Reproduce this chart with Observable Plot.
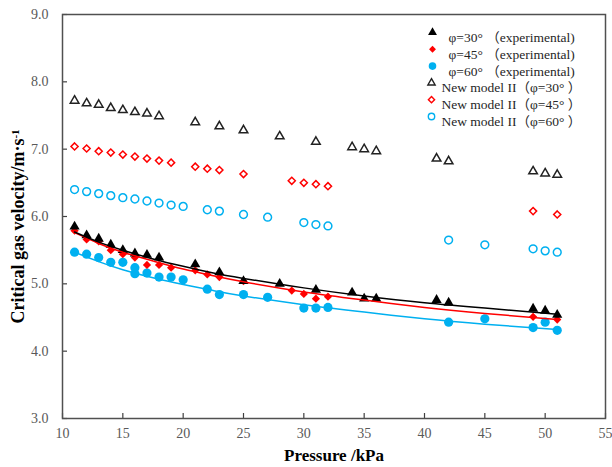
<!DOCTYPE html>
<html>
<head>
<meta charset="utf-8">
<script src="https://cdn.jsdelivr.net/npm/d3@7"></script>
<script src="https://cdn.jsdelivr.net/npm/@observablehq/plot@0.6"></script>
<style>
  html, body { margin: 0; padding: 0; background: #fff; }
  #chart svg text { font-family: "Liberation Serif", "Times New Roman", "Noto Sans CJK SC", serif !important; }
</style>
</head>
<body>
<div id="chart"></div>
<script>
// ---- data ----
const xTicks = [10, 15, 20, 25, 30, 35, 40, 45, 50, 55];
const yTicks = [3, 4, 5, 6, 7, 8, 9];

const pExp30 = [11,12,13,14,15,16,17,18,21,23,25,28,31,34,35,36,41,42,49,50,51];
const vExp30 = [5.85,5.72,5.67,5.58,5.50,5.45,5.43,5.39,5.29,5.17,5.04,5.00,4.91,4.87,4.78,4.78,4.76,4.72,4.63,4.60,4.54];

const pExp45 = [11,12,13,14,15,16,17,18,19,21,22,23,25,29,30,31,32,49,51];
const vExp45 = [5.79,5.66,5.63,5.50,5.44,5.39,5.28,5.28,5.24,5.20,5.14,5.10,5.04,4.90,4.85,4.78,4.81,4.51,4.47];

const pExp60 = [11,12,13,14,15,16,16,17,18,19,20,22,23,25,27,30,31,32,42,45,49,50,51];
const vExp60 = [5.47,5.44,5.39,5.32,5.32,5.24,5.15,5.16,5.10,5.10,5.06,4.92,4.84,4.84,4.80,4.64,4.64,4.65,4.43,4.48,4.35,4.43,4.31];

const pMod30 = [11,12,13,14,15,16,17,18,21,23,25,28,31,34,35,36,41,42,49,50,51];
const vMod30 = [7.72,7.68,7.66,7.61,7.58,7.55,7.53,7.49,7.40,7.34,7.28,7.19,7.11,7.03,7.00,6.97,6.86,6.82,6.67,6.64,6.62];

const pMod45 = [11,12,13,14,15,16,17,18,19,21,22,23,25,29,30,31,32,49,51];
const vMod45 = [7.04,7.01,6.97,6.95,6.92,6.89,6.86,6.83,6.80,6.74,6.71,6.69,6.63,6.53,6.50,6.48,6.45,6.08,6.03];

const pMod60 = [11,12,13,14,15,16,17,18,19,20,22,23,25,27,30,31,32,42,45,49,50,51];
const vMod60 = [6.40,6.37,6.34,6.31,6.28,6.26,6.23,6.20,6.17,6.15,6.10,6.08,6.03,5.99,5.91,5.88,5.86,5.65,5.58,5.52,5.49,5.47];

// trend lines
const pFit = [11,13,15,17.5,20,22.5,25,30,35,40,45,51];
const vFit30 = [5.77,5.62,5.50,5.37,5.26,5.16,5.08,4.94,4.82,4.72,4.64,4.55];
const vFit45 = [5.76,5.60,5.47,5.34,5.22,5.12,5.03,4.88,4.76,4.65,4.56,4.47];
const vFit60 = [5.47,5.33,5.21,5.09,4.99,4.90,4.82,4.69,4.58,4.48,4.40,4.32];

const legendLabels = [
  "φ=30° （experimental)",
  "φ=45° （experimental)",
  "φ=60° （experimental)",
  "New model II（φ=30° ）",
  "New model II（φ=45° ）",
  "New model II（φ=60° ）"
];
const xLabel = "Pressure /kPa";
const yLabelMain = "Critical gas velocity/m·s";
const yLabelSup = "-1";

// ---- styling ----
const BLACK = "#000000", RED = "#ff0000", CYAN = "#00b0f0";
const FONT = "'Liberation Serif', 'Times New Roman', serif";
const W = 612, H = 467;
const M = {top: 14, right: 7, bottom: 49, left: 62};
const innerW = W - M.left - M.right;
const innerH = H - M.top - M.bottom;

const zip = (ps, vs) => ps.map((p, i) => ({p, v: vs[i]}));

const series = [
  {data: zip(pMod30, vMod30), symbol: "triangle", r: 3.2, fill: "none", stroke: "#222", sw: 1.5},
  {data: zip(pMod45, vMod45), symbol: "diamond2", r: 3.2, fill: "none", stroke: RED, sw: 1.5},
  {data: zip(pMod60, vMod60), symbol: "circle", r: 3.9, fill: "none", stroke: CYAN, sw: 1.5},
  {data: zip(pExp60, vExp60), symbol: "circle", r: 4.6, fill: CYAN, stroke: "none", sw: 0},
  {data: zip(pExp45, vExp45), symbol: "diamond2", r: 3.7, fill: RED, stroke: "none", sw: 0},
  {data: zip(pExp30, vExp30), symbol: "triangle", r: 3.8, fill: BLACK, stroke: "none", sw: 0}
];

const fits = [
  {data: zip(pFit, vFit60), stroke: CYAN},
  {data: zip(pFit, vFit45), stroke: RED},
  {data: zip(pFit, vFit30), stroke: BLACK}
];

const legendStyle = [
  {symbol: "triangle", r: 3.3, fill: BLACK, stroke: "none", sw: 0, sx: 370, tx: 386},
  {symbol: "diamond2", r: 3.1, fill: RED, stroke: "none", sw: 0, sx: 370, tx: 386},
  {symbol: "circle", r: 3.8, fill: CYAN, stroke: "none", sw: 0, sx: 370, tx: 386},
  {symbol: "triangle", r: 2.7, fill: "none", stroke: "#222", sw: 1.4, sx: 369, tx: 379},
  {symbol: "diamond2", r: 2.8, fill: "none", stroke: RED, sw: 1.4, sx: 369, tx: 379},
  {symbol: "circle", r: 3.2, fill: "none", stroke: CYAN, sw: 1.4, sx: 369, tx: 379}
];
const legendRowY0 = 18, legendRowStep = 16.8;

const marks = [
  // inward ticks
  Plot.tickY(yTicks, {y: d => d, stroke: "#404040", strokeWidth: 1.2, insetRight: innerW - 5}),
  Plot.tickX(xTicks, {x: d => d, stroke: "#404040", strokeWidth: 1.2, insetTop: innerH - 5}),
  Plot.axisX({ticks: xTicks, tickSize: 0, tickPadding: 10, label: null, fontSize: 14,
              fontFamily: FONT, fill: "#595959", tickFormat: d => String(d)}),
  Plot.axisY({ticks: yTicks, tickSize: 0, tickPadding: 14, label: null, fontSize: 14,
              fontFamily: FONT, fill: "#595959", tickFormat: d => d.toFixed(1)}),
  Plot.frame({stroke: "#505050", strokeWidth: 1.5}),
  ...series.map(s => Plot.dot(s.data, {x: "p", y: "v", symbol: () => s.symbol, r: s.r,
      fill: s.fill, stroke: s.stroke, strokeWidth: s.sw})),
  ...fits.map(f => Plot.line(f.data, {x: "p", y: "v", stroke: f.stroke, strokeWidth: 1.5, curve: "natural"})),
  // legend
  ...legendStyle.map((s, i) => Plot.dot([legendLabels[i]], {frameAnchor: "top-left", dx: s.sx,
      dy: legendRowY0 + i * legendRowStep, symbol: () => s.symbol, r: s.r, fill: s.fill,
      stroke: s.stroke, strokeWidth: s.sw})),
  ...legendStyle.map((s, i) => Plot.text([legendLabels[i]], {frameAnchor: "top-left", dx: s.tx,
      dy: legendRowY0 + i * legendRowStep, text: d => d, textAnchor: "start", fontSize: 13.5,
      fontFamily: FONT, fill: "#262626"})),
  // axis titles
  Plot.text([xLabel], {frameAnchor: "bottom", dy: 42, text: d => d, fontSize: 17,
      fontWeight: "bold", fontFamily: FONT, fill: "#000"}),
  Plot.text([yLabelMain], {frameAnchor: "left", dx: -44, dy: 10, rotate: -90, text: d => d,
      textAnchor: "middle", fontSize: 18, fontWeight: "bold", fontFamily: FONT, fill: "#000"})
];

const chart = Plot.plot({
  width: W, height: H,
  marginTop: M.top, marginRight: M.right, marginBottom: M.bottom, marginLeft: M.left,
  style: {background: "#fff", fontFamily: FONT},
  x: {domain: [10, 55]},
  y: {domain: [3, 9]},
  symbol: {type: "identity"},
  marks
});

// superscript for the y label unit
d3.select(chart).selectAll("text")
  .filter(function() { return this.textContent === yLabelMain; })
  .append("tspan").attr("dy", "-0.45em").attr("font-size", 11).text(yLabelSup);

document.getElementById("chart").appendChild(chart);
</script>
</body>
</html>
